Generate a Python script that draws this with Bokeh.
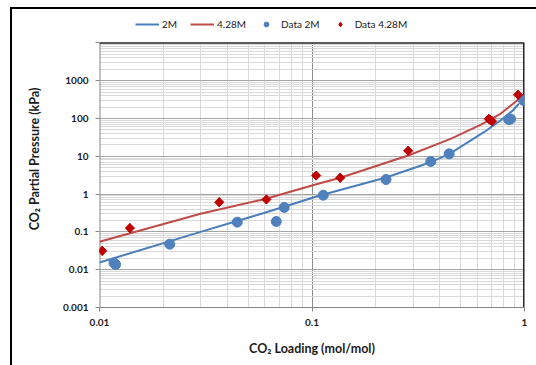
from bokeh.plotting import figure
from bokeh.models import Legend, LegendItem, FixedTicker, Range1d, BoxAnnotation, Span
from bokeh.embed import file_html
from bokeh.resources import INLINE

# model curves
x_2m = [0.01, 0.0299, 0.0594, 0.109, 0.223, 0.362, 0.442, 0.644, 0.771, 0.881, 0.94]
y_2m = [0.0155, 0.1, 0.316, 0.918, 2.75, 6.98, 11.4, 43.4, 88.5, 163, 245]
x_428 = [0.01, 0.0299, 0.0594, 0.109, 0.136, 0.2835, 0.449, 0.621, 0.771, 0.924, 0.94]
y_428 = [0.055, 0.301, 0.733, 1.94, 2.70, 10.5, 29, 68, 133, 299, 340]

# experimental data
dx_2m = [0.0117, 0.0119, 0.0214, 0.0445, 0.0679, 0.074, 0.113, 0.223, 0.362, 0.442, 0.843, 0.86, 0.99]
dy_2m = [0.0151, 0.0137, 0.0473, 0.181, 0.188, 0.443, 0.935, 2.43, 7.28, 11.6, 94, 97, 299]
dx_428 = [0.0103, 0.0139, 0.0366, 0.061, 0.1046, 0.1357, 0.2835, 0.679, 0.69, 0.703, 0.933]
dy_428 = [0.0316, 0.126, 0.61, 0.72, 3.1, 2.7, 14.0, 98, 92, 85, 424]

x_ticks = [0.01, 0.1, 1]
y_ticks = [0.001, 0.01, 0.1, 1, 10, 100, 1000]
y_labels = ["0.001", "0.01", "0.1", "1", "10", "100", "1000"]
x_labels = ["0.01", "0.1", "1"]
x_min, x_max = 0.01, 1
y_min, y_max = 0.001, 10000

FONT = "Lato"

frame_css = {
    "background-color": "white",
    "background-image": "linear-gradient(black, black), linear-gradient(black, black)",
    "background-size": "526px 2px, 2px 358px",
    "background-position": "10px 7px, 10px 7px",
    "background-repeat": "no-repeat",
}

# the frame reaches up into the legend strip; the plotting area ends at y_max
p = figure(width=536, height=365, x_axis_type="log", y_axis_type="log",
           x_range=Range1d(x_min, x_max), y_range=Range1d(y_min, 10 ** 4.857),
           output_backend="svg", toolbar_location=None,
           min_border_left=99, min_border_right=12, min_border_top=10, min_border_bottom=58,
           background_fill_color="white", border_fill_alpha=0,
           outline_line_color=None, styles=frame_css)

x_minor = [m * 10 ** e for e in range(-2, 0) for m in range(2, 10)]
y_minor = [m * 10 ** e for e in range(-3, 4) for m in range(2, 10)]
p.xaxis.ticker = FixedTicker(ticks=x_ticks, minor_ticks=x_minor)
p.yaxis.ticker = FixedTicker(ticks=y_ticks + [y_max], minor_ticks=y_minor)
p.xaxis.major_label_overrides = {t: l for t, l in zip(x_ticks, x_labels)}
p.yaxis.major_label_overrides = {**{t: l for t, l in zip(y_ticks, y_labels)}, y_max: ""}

for ax in (p.xaxis, p.yaxis):
    ax.axis_line_color = "#868686"
    ax.major_tick_line_color = "#868686"
    ax.major_tick_out = 4
    ax.major_tick_in = 0
    ax.minor_tick_line_color = None
    ax.major_label_text_font = FONT
    ax.major_label_text_font_style = "bold"
    ax.major_label_text_font_size = "10px"
    ax.major_label_text_color = "#1a1a1a"
    ax.axis_label_text_font = FONT
    ax.axis_label_text_font_style = "bold"
    ax.axis_label_text_font_size = "12.5px"
    ax.axis_label_text_color = "#1a1a1a"
    ax.major_label_standoff = 7
p.yaxis.axis_line_color = None

p.xaxis.axis_label = "CO₂ Loading (mol/mol)"
p.yaxis.axis_label = "CO₂ Partial Pressure (kPa)"
p.xaxis.axis_label_standoff = 12
p.yaxis.axis_label_standoff = 18

p.xgrid.grid_line_color = "#8c8c8c"
p.ygrid.grid_line_color = "#a6a6a6"
p.xgrid.minor_grid_line_color = "#d9d9d9"
p.ygrid.minor_grid_line_color = "#d9d9d9"

# plot-area borders: gray left, dark right
p.segment(x0=[x_min], y0=[y_min], x1=[x_min], y1=[y_max], line_color="#868686", line_width=2)
p.segment(x0=[x_max], y0=[y_min], x1=[x_max], y1=[y_max], line_color="#262626", line_width=3)

l1 = p.line(x_2m, y_2m, line_color="#4a7ebb", line_width=2)
l2 = p.line(x_428, y_428, line_color="#be4b48", line_width=2)
s1 = p.scatter(dx_2m, dy_2m, marker="circle", size=10, fill_color="#4f81bd", line_color="#4f81bd")
# diamond glyph used as the legend swatch (fully covered by the rotated squares below)
s2_key = p.scatter(dx_428, dy_428, marker="diamond", size=9,
                   fill_color="#c00000", line_color="#c00000")
s2 = p.scatter(dx_428, dy_428, marker="square", angle=0.785398, size=6.5,
               fill_color="#c00000", line_color="#c00000")

# white strip above the plotting area (hides grid lines there)
p.add_layout(BoxAnnotation(bottom=y_max, fill_color="white", fill_alpha=1, line_color=None))
p.add_layout(Span(location=y_max, dimension="width", line_color="#262626", line_width=1.5))

legend = Legend(items=[LegendItem(label="2M", renderers=[l1]),
                       LegendItem(label="4.28M", renderers=[l2]),
                       LegendItem(label="Data 2M", renderers=[s1]),
                       LegendItem(label="Data 4.28M", renderers=[s2_key])],
                orientation="horizontal", location=(36, 277),
                padding=2, margin=0, spacing=8, glyph_width=24, glyph_height=12,
                label_standoff=3, label_text_font=FONT, label_text_font_size="10px",
                label_text_color="#1a1a1a", border_line_color=None,
                background_fill_alpha=0, label_height=12)
p.add_layout(legend, "center")

open("out.html", "w").write(file_html(p, INLINE))
